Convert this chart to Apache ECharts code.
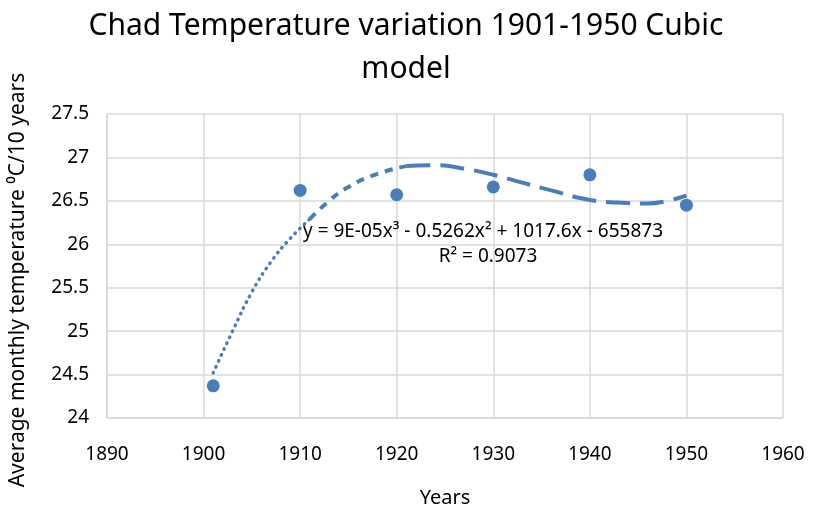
<!DOCTYPE html>
<html>
<head>
<meta charset="utf-8">
<script src="https://cdn.jsdelivr.net/npm/echarts@6/dist/echarts.min.js"></script>
<style>
  html, body { margin: 0; padding: 0; background: #fff; }
  #chart { width: 814px; height: 514px; }
</style>
</head>
<body>
<div id="chart"></div>
<script>
var years = [1901, 1910, 1920, 1930, 1940, 1950];
var temps = [24.37, 26.62, 26.57, 26.66, 26.80, 26.45];

// cubic trendline as drawn
var trendYears = [1901, 1903, 1905, 1907, 1909, 1911, 1913, 1915, 1918, 1921, 1924, 1927, 1930, 1933, 1936, 1940, 1943, 1946, 1948, 1950];
var trendTemps = [24.52, 25.00, 25.45, 25.80, 26.07, 26.29, 26.50, 26.66, 26.81, 26.90, 26.91, 26.87, 26.80, 26.71, 26.62, 26.51, 26.48, 26.47, 26.50, 26.56];

var xTicks = [1890, 1960, 10];   // min, max, interval
var yTicks = [24, 27.5, 0.5];

var blue = '#4a7ebb';
var font = "'Noto Sans', sans-serif";

function pairs(xs, ys) {
  return xs.map(function (x, i) { return [x, ys[i]]; });
}
var trend = pairs(trendYears, trendTemps);

// trendline drawn in three pieces, the dash gets longer along the curve
function trendPiece(from, to, dash, width, cap) {
  return {
    type: 'line',
    data: trend.slice(from, to + 1),
    smooth: true,
    symbol: 'none',
    silent: true,
    lineStyle: { color: blue, width: width, type: dash, cap: cap },
    z: 2
  };
}

var chart = echarts.init(document.getElementById('chart'));
chart.setOption({
  animation: false,
  backgroundColor: '#fff',
  title: {
    text: 'Chad Temperature variation 1901-1950 Cubic\nmodel',
    left: 401,
    textAlign: 'center',
    top: 0,
    textStyle: { fontFamily: font, fontSize: 30, fontWeight: 'normal', color: '#000', lineHeight: 43 }
  },
  grid: { left: 107, right: 31, top: 114, bottom: 96 },
  xAxis: {
    type: 'value',
    min: xTicks[0], max: xTicks[1], interval: xTicks[2],
    name: 'Years',
    nameLocation: 'middle',
    nameGap: 70,
    nameTextStyle: { fontFamily: font, fontSize: 20, color: '#000' },
    axisLine: { show: true, lineStyle: { color: '#d9d9d9', width: 1.5 } },
    axisTick: { show: false },
    axisLabel: { fontFamily: font, fontSize: 19, color: '#000', margin: 27, formatter: function (v) { return String(v); } },
    splitLine: { show: true, lineStyle: { color: '#d9d9d9', width: 1.5 } }
  },
  yAxis: {
    type: 'value',
    min: yTicks[0], max: yTicks[1], interval: yTicks[2],
    axisLine: { show: true, lineStyle: { color: '#d9d9d9', width: 1.5 } },
    axisTick: { show: false },
    axisLabel: { fontFamily: font, fontSize: 19, color: '#000', margin: 18 },
    splitLine: { show: true, lineStyle: { color: '#d9d9d9', width: 1.5 } }
  },
  series: [
    trendPiece(0, 5, [0.5, 6], 3.5, 'round'),
    trendPiece(5, 9, [8, 7], 4, 'butt'),
    trendPiece(9, trend.length - 1, [24, 10], 4, 'butt'),
    {
      type: 'scatter',
      data: pairs(years, temps),
      symbol: 'circle',
      symbolSize: 13,
      itemStyle: { color: blue, opacity: 1 },
      z: 3
    }
  ],
  graphic: [
    {
      type: 'text',
      x: 18, y: 280,
      rotation: Math.PI / 2,
      style: {
        text: 'Average monthly temperature \u2070C/10 years',
        font: '21px ' + font, fill: '#000',
        align: 'center', verticalAlign: 'middle'
      }
    },
    {
      type: 'text',
      x: 303, y: 232,
      style: { text: 'y = 9E-05x\u00b3 - 0.5262x\u00b2 + 1017.6x - 655873', font: '19px ' + font, fill: '#000', verticalAlign: 'middle' },
      z: 10
    },
    {
      type: 'text',
      x: 488, y: 257,
      style: { text: 'R\u00b2 = 0.9073', font: '19px ' + font, fill: '#000', align: 'center', verticalAlign: 'middle' },
      z: 10
    }
  ]
});
</script>
</body>
</html>
